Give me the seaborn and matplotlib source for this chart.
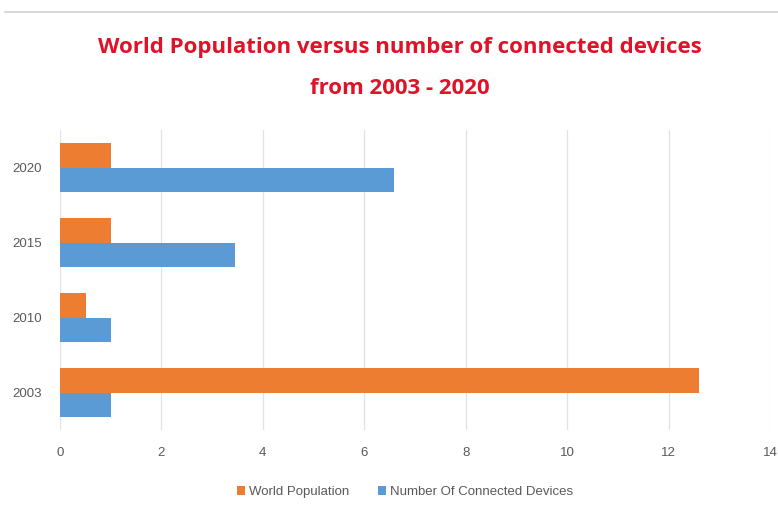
import matplotlib
matplotlib.use("Agg")
import matplotlib.pyplot as plt
import seaborn as sns
import pandas as pd
from matplotlib.lines import Line2D
from matplotlib.patches import Patch

years = ["2020", "2015", "2010", "2003"]
world_population = [1.0, 1.0, 0.52, 12.6]
connected_devices = [6.58, 3.45, 1.0, 1.0]
series_names = ["World Population", "Number Of Connected Devices"]
x_ticks = [0, 2, 4, 6, 8, 10, 12, 14]
colors = ["#ED7D31", "#5B9BD5"]

df = pd.DataFrame({
    "Year": years * 2,
    "Value": world_population + connected_devices,
    "Series": [series_names[0]] * len(years) + [series_names[1]] * len(years),
})

sns.set_theme(style="white")
plt.rcParams['font.family'] = ['Liberation Sans Narrow', 'Liberation Sans', 'DejaVu Sans']

fig = plt.figure(figsize=(7.78, 5.15), dpi=100)
ax = fig.add_axes([60/778, 1-430/515, 710/778, 300/515])

sns.barplot(data=df, x="Value", y="Year", hue="Series", order=years,
            hue_order=series_names, palette=colors, orient="h",
            width=0.65, ax=ax, legend=False, saturation=1, linewidth=0)

ax.set_xlim(0, 14)
ax.set_ylim(3.5, -0.5)
ax.set_xticks(x_ticks)
ax.set_xticklabels([str(t) for t in x_ticks])
ax.set_xlabel("")
ax.set_ylabel("")
ax.grid(axis="x", color="#E2E2E2", linewidth=0.9)
ax.set_axisbelow(True)
for s in ax.spines.values():
    s.set_visible(False)
ax.tick_params(axis="both", length=0, labelsize=9.5, labelcolor="#595959")
ax.tick_params(axis="x", pad=12)
ax.tick_params(axis="y", pad=13)

fig.text(400/778, 1-47/515, "World Population versus number of connected devices",
         ha="center", va="center", fontsize=16, fontweight="bold", color="#DD1427",
         family=["Open Sans", "DejaVu Sans"])
fig.text(400/778, 1-88/515, "from 2003 - 2020",
         ha="center", va="center", fontsize=16, fontweight="bold", color="#DD1427",
         family=["Open Sans", "DejaVu Sans"])

handles = [Patch(facecolor=c, edgecolor="none") for c in colors]
fig.legend(handles, series_names, loc="center", bbox_to_anchor=(405/778, 1-492/515),
           ncol=2, frameon=False, fontsize=9.5, labelcolor="#595959",
           handlelength=0.6, handleheight=0.6, handletextpad=0.3, columnspacing=2.2)

fig.add_artist(Line2D([5/778, 1], [1-12/515, 1-12/515], color="#D9D9D9", linewidth=1.5))

fig.savefig("out.png", dpi=100)
